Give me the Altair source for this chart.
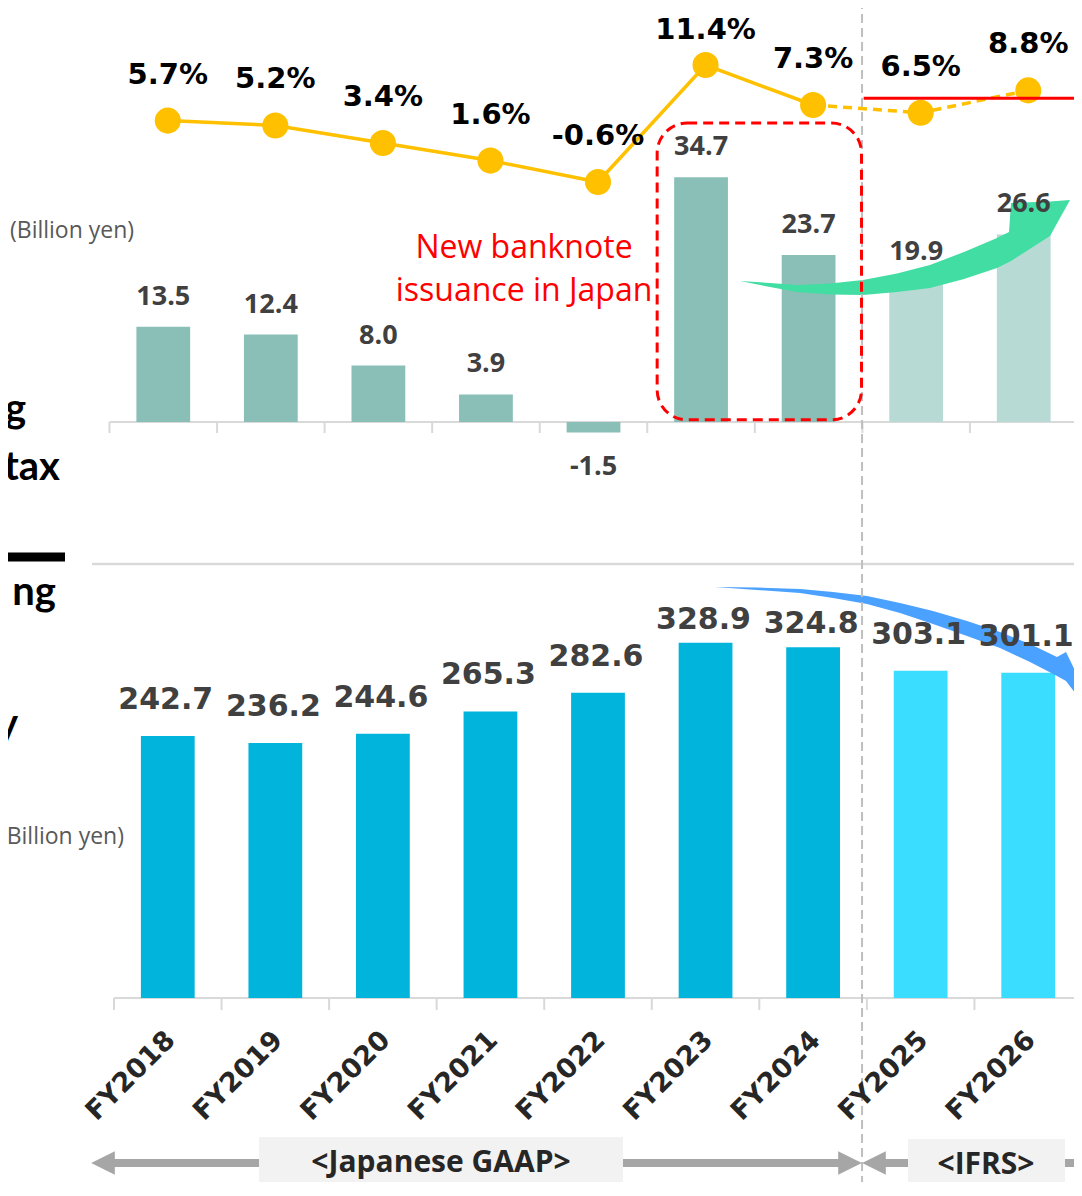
import altair as alt
import pandas as pd

# ---------------- data ----------------
YEARS = ["FY2018", "FY2019", "FY2020", "FY2021", "FY2022", "FY2023", "FY2024", "FY2025", "FY2026"]
PROFIT = [13.5, 12.4, 8.0, 3.9, -1.5, 34.7, 23.7, 19.9, 26.6]          # profit before tax (billion yen)
SALES = [242.7, 236.2, 244.6, 265.3, 282.6, 328.9, 324.8, 303.1, 301.1]  # sales (billion yen)
MARGIN = [5.7, 5.2, 3.4, 1.6, -0.6, 11.4, 7.3, 6.5, 8.8]                 # margin (%)
PHASE = ["Japanese GAAP"] * 7 + ["IFRS"] * 2
TARGET_MARGIN = 8.0
LIFTED_SALES_LABELS = ["FY2023", "FY2024"]

df = pd.DataFrame({"year": YEARS, "profit": PROFIT, "sales": SALES,
                   "margin": MARGIN, "phase": PHASE, "idx": list(range(len(YEARS)))})
df["profit_label"] = [f"{v:.1f}" for v in PROFIT]
df["sales_label"] = [f"{v:.1f}" for v in SALES]
df["margin_label"] = [f"{v:.1f}%" for v in MARGIN]

W, H = 960, 1174
XR = [0, 968]

# ---------------- scales ----------------
XBAND = alt.Scale(type="band", domain=YEARS, range=XR, paddingInner=0.5, paddingOuter=0.25)
XPOINT = alt.Scale(type="point", domain=YEARS, range=XR, padding=0.5)
X_IDX = alt.Scale(domain=[0, 9], range=XR, nice=False, zero=False)            # category-boundary index
X_CANVAS = alt.Scale(domain=[114, 1082], range=XR, nice=False, zero=False)     # slide units for decorations
Y_CANVAS = alt.Scale(domain=[8, 8 + H], nice=False, zero=False, reverse=True)
Y_SALES = alt.Scale(domain=[-170.37, 916.67], nice=False, zero=False)
Y_PROFIT = alt.Scale(domain=[-107.80, 58.72], nice=False, zero=False)
Y_MARGIN = alt.Scale(domain=[-103.16, 17.25], nice=False, zero=False)

TOP_COLORS = alt.Scale(domain=["Japanese GAAP", "IFRS"], range=["#8ABFB8", "#B8DAD5"])
BOT_COLORS = alt.Scale(domain=["Japanese GAAP", "IFRS"], range=["#00B4DC", "#3ADCFF"])

GRID = "#D9D9D9"
one = pd.DataFrame({"a": [0]})
base = alt.Chart(df)


def xband():
    return alt.X("year:N", scale=XBAND, axis=None, sort=YEARS)


def xpoint():
    return alt.X("year:N", scale=XPOINT, axis=None, sort=YEARS)


def cx(f):
    return alt.X(f, type="quantitative", scale=X_CANVAS, axis=None)


def cy(f):
    return alt.Y(f, type="quantitative", scale=Y_CANVAS, axis=None)


layers = []

# separator between panels
sep = pd.DataFrame({"x": [92], "x2": [1082], "y": [564]})
layers.append(alt.Chart(sep).mark_rule(color=GRID, strokeWidth=2.5).encode(
    x=cx("x"), x2="x2:Q", y=cy("y")))

# axis lines and boundary ticks
ticks = pd.DataFrame({"k": list(range(10))})
layers.append(alt.Chart(one).mark_rule(color=GRID, strokeWidth=2, xOffset=-4.5).encode(
    x=alt.XDatum(0, scale=X_IDX, axis=None), x2=alt.X2Datum(9),
    y=alt.YDatum(0, scale=Y_PROFIT, axis=None)))
layers.append(alt.Chart(ticks).mark_rule(color=GRID, strokeWidth=2, xOffset=-4.5).encode(
    x=alt.X("k:Q", scale=X_IDX, axis=None),
    y=alt.YDatum(0, scale=Y_PROFIT, axis=None), y2=alt.Y2Datum(-1.56)))
layers.append(alt.Chart(one).mark_rule(color=GRID, strokeWidth=2).encode(
    x=alt.XDatum(0, scale=X_IDX, axis=None), x2=alt.X2Datum(9),
    y=alt.YDatum(0, scale=Y_SALES, axis=None)))
layers.append(alt.Chart(ticks).mark_rule(color=GRID, strokeWidth=2).encode(
    x=alt.X("k:Q", scale=X_IDX, axis=None),
    y=alt.YDatum(0, scale=Y_SALES, axis=None), y2=alt.Y2Datum(-11.1)))

# bars
layers.append(base.mark_bar(xOffset=-4.5).encode(
    x=xband(), y=alt.Y("profit:Q", scale=Y_PROFIT, axis=None), y2=alt.Y2Datum(0),
    color=alt.Color("phase:N", scale=TOP_COLORS, legend=None)))
layers.append(base.mark_bar().encode(
    x=xband(), y=alt.Y("sales:Q", scale=Y_SALES, axis=None), y2=alt.Y2Datum(0),
    color=alt.Color("phase:N", scale=BOT_COLORS, legend=None)))

# curved arrows (decorations, slide units)
green = pd.DataFrame({
    "x":   [740, 770, 797, 830, 863, 897, 930, 964, 997, 1009, 1011, 1050, 1070],
    "top": [281, 283, 285, 283.5, 280, 273.5, 265, 252, 238, 232, 203, 201.5, 200],
    "bot": [281, 287, 292, 294.5, 295, 292, 288, 279, 268, 262, 261, 236, 200],
})
layers.append(alt.Chart(green).mark_area(color="#41DDA2", opacity=1, interpolate="linear").encode(
    x=cx("x"), y=cy("top"), y2="bot:Q"))
blue = pd.DataFrame({
    "x":   [715, 757, 800, 833, 867, 900, 933, 967, 1000, 1030, 1057, 1066, 1082],
    "top": [587, 587.5, 589, 592, 596, 603, 611, 621, 632, 644, 657, 652, 685],
    "bot": [587, 590, 593, 598, 604, 613, 624, 636, 648, 662, 676, 681, 702],
})
layers.append(alt.Chart(blue).mark_area(color="#4BA1FF", opacity=1, interpolate="linear").encode(
    x=cx("x"), y=cy("top"), y2="bot:Q"))

# vertical dashed divider between GAAP and IFRS
layers.append(alt.Chart(one).mark_rule(color="#BFBFBF", strokeWidth=2, strokeDash=[9, 5]).encode(
    x=alt.XDatum(6.955, scale=X_IDX, axis=None),
    y=alt.YDatum(0, scale=Y_CANVAS, axis=None), y2=alt.Y2Datum(1196)))

# red dashed rounded box around FY2023-FY2024 profits
layers.append(alt.Chart(one).mark_rect(cornerRadius=30, fillOpacity=0, stroke="#FF0000",
                                       strokeWidth=3, strokeDash=[10, 6]).encode(
    x=alt.XDatum(5.05, scale=X_IDX, axis=None), x2=alt.X2Datum(6.95),
    y=alt.YDatum(42.4, scale=Y_PROFIT, axis=None), y2=alt.Y2Datum(0.3)))

# margin line
layers.append(base.transform_filter("datum.idx <= 6").mark_line(color="#FFC000", strokeWidth=3.5).encode(
    x=xpoint(), y=alt.Y("margin:Q", scale=Y_MARGIN, axis=None)))
layers.append(base.transform_filter("datum.idx >= 6").mark_line(color="#FFC000", strokeWidth=3.5,
                                                               strokeDash=[9, 6]).encode(
    x=xpoint(), y=alt.Y("margin:Q", scale=Y_MARGIN, axis=None)))
layers.append(base.mark_point(filled=True, size=680, color="#FFC000", opacity=1).encode(
    x=xpoint(), y=alt.Y("margin:Q", scale=Y_MARGIN, axis=None)))

# target margin line
layers.append(alt.Chart(one).mark_rule(color="#FF0000", strokeWidth=3).encode(
    x=alt.XDatum(6.97, scale=X_IDX, axis=None), x2=alt.X2Datum(9),
    y=alt.YDatum(TARGET_MARGIN, scale=Y_MARGIN, axis=None)))

# labels
PCT = dict(font="DejaVu Sans", fontWeight="bold", fontSize=29, color="#000000", baseline="middle")
layers.append(base.transform_filter("datum.year != 'FY2023'").mark_text(dy=-46, **PCT).encode(
    x=xpoint(), y=alt.Y("margin:Q", scale=Y_MARGIN, axis=None), text="margin_label:N"))
layers.append(base.transform_filter("datum.year == 'FY2023'").mark_text(dy=-35, **PCT).encode(
    x=xpoint(), y=alt.Y("margin:Q", scale=Y_MARGIN, axis=None), text="margin_label:N"))

PL = dict(font="Open Sans", fontWeight="bold", fontSize=27, color="#404040", baseline="middle", dx=-4.5)
layers.append(base.transform_filter("datum.profit >= 0").mark_text(dy=-30, **PL).encode(
    x=xpoint(), y=alt.Y("profit:Q", scale=Y_PROFIT, axis=None), text="profit_label:N"))
layers.append(base.transform_filter("datum.profit < 0").mark_text(dy=34, **PL).encode(
    x=xpoint(), y=alt.Y("profit:Q", scale=Y_PROFIT, axis=None), text="profit_label:N"))

SL = dict(font="DejaVu Sans", fontWeight="bold", fontSize=30, color="#404040", baseline="middle", dx=-2)
lifted = alt.FieldOneOfPredicate(field="year", oneOf=LIFTED_SALES_LABELS)
layers.append(base.transform_filter(~lifted).mark_text(dy=-36, **SL).encode(
    x=xpoint(), y=alt.Y("sales:Q", scale=Y_SALES, axis=None), text="sales_label:N"))
layers.append(base.transform_filter(lifted).mark_text(dy=-23, **SL).encode(
    x=xpoint(), y=alt.Y("sales:Q", scale=Y_SALES, axis=None), text="sales_label:N"))

# x-axis category labels (rotated)
layers.append(base.mark_text(font="DejaVu Sans", fontWeight="bold", fontSize=27, color="#262626",
                             angle=315, align="right", baseline="middle", xOffset=3).encode(
    x=xpoint(), y=alt.YDatum(1036, scale=Y_CANVAS, axis=None), text="year:N"))

# red annotation
note = pd.DataFrame({"t": ["New banknote", "issuance in Japan"], "x": [524, 524], "y": [248, 291]})
layers.append(alt.Chart(note).mark_text(font="Open Sans", fontSize=32, color="#FF0000",
                                        baseline="middle", align="center").encode(
    x=cx("x"), y=cy("y"), text="t:N"))

# unit labels
units = pd.DataFrame({"t": ["(Billion yen)"], "x": [10], "y": [231]})
layers.append(alt.Chart(units).mark_text(font="Open Sans", fontSize=23, color="#595959",
                                         baseline="middle", align="left").encode(
    x=cx("x"), y=cy("y"), text="t:N"))
units2 = pd.DataFrame({"t": ["(Billion yen)"], "x": [124], "y": [837]})
layers.append(alt.Chart(units2).mark_text(font="Open Sans", fontSize=23, color="#595959",
                                          baseline="middle", align="right").encode(
    x=cx("x"), y=cy("y"), text="t:N"))

# series titles at the left edge (only their ends are inside the slide crop)
side = pd.DataFrame({"t": ["g", "tax", "ng", "y"], "x": [26, 60, 56, 18], "y": [422, 480, 605, 737]})
layers.append(alt.Chart(side).mark_text(font="Lato", fontWeight="bold", fontSize=40, color="#000000",
                                        baseline="alphabetic", align="right").encode(
    x=cx("x"), y=cy("y"), text="t:N"))
bar_line = pd.DataFrame({"x": [0], "x2": [65], "y": [557]})
layers.append(alt.Chart(bar_line).mark_rule(color="#000000", strokeWidth=9).encode(
    x=cx("x"), x2="x2:Q", y=cy("y")))

# accounting-standard arrows at the bottom
ARROW = "#A6A6A6"
shafts = pd.DataFrame({"x": [105, 623, 880, 1064], "x2": [262, 842, 908, 1082], "y": [1163] * 4})
layers.append(alt.Chart(shafts).mark_rule(color=ARROW, strokeWidth=8).encode(
    x=cx("x"), x2="x2:Q", y=cy("y")))
heads_l = pd.DataFrame({"x": [103, 874], "y": [1163, 1163]})
layers.append(alt.Chart(heads_l).mark_point(shape="M-1,0L1,-1L1,1Z", filled=True, size=560,
                                            color=ARROW, opacity=1, strokeWidth=0).encode(
    x=cx("x"), y=cy("y")))
heads_r = pd.DataFrame({"x": [850], "y": [1163]})
layers.append(alt.Chart(heads_r).mark_point(shape="M1,0L-1,-1L-1,1Z", filled=True, size=560,
                                            color=ARROW, opacity=1, strokeWidth=0).encode(
    x=cx("x"), y=cy("y")))
boxes = pd.DataFrame({"x": [259, 908], "x2": [623, 1065], "y": [1137, 1139], "y2": [1189, 1190]})
layers.append(alt.Chart(boxes).mark_rect(color="#F2F2F2").encode(
    x=cx("x"), x2="x2:Q", y=cy("y"), y2="y2:Q"))
std = pd.DataFrame({"t": ["<Japanese GAAP>", "<IFRS>"], "x": [441, 986], "y": [1163, 1165]})
layers.append(alt.Chart(std).mark_text(font="Open Sans", fontWeight="bold", fontSize=30, color="#262626",
                                       baseline="middle", align="center").encode(
    x=cx("x"), y=cy("y"), text="t:N"))

chart = alt.layer(*layers).resolve_scale(
    x="independent", y="independent", color="independent"
).properties(
    width=W, height=H,
    padding={"left": 106, "top": 0, "right": 0, "bottom": 0},
    autosize=alt.AutoSizeParams(type="none"),
    background="white",
).configure_view(stroke=None)

chart.save("out.html", embed_options={"renderer": "svg", "actions": False})
